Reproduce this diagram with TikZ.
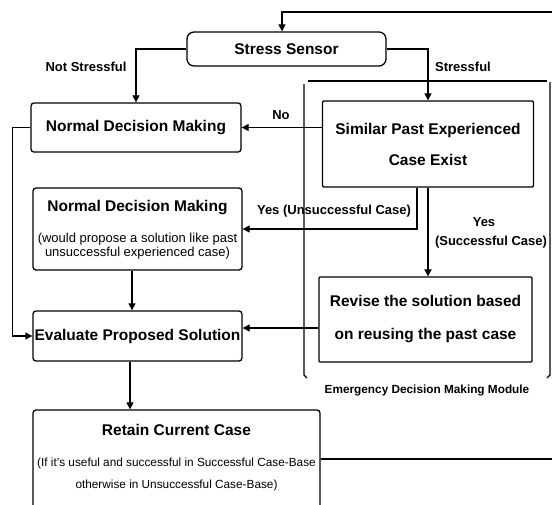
\documentclass[tikz,border=0pt]{standalone}
\usepackage{fontspec}
\setmainfont{Liberation Sans}
\usetikzlibrary{arrows.meta}
\begin{document}
\begin{tikzpicture}[x=1pt,y=-1pt,
  every node/.style={inner sep=0pt},
  box/.style={draw, line width=1.3pt, rounded corners=3pt, align=center, font=\fontsize{15.5}{18}\selectfont\bfseries},
  sqbox/.style={box, rounded corners=1pt},
  ttl/.style={font=\fontsize{15.5}{18}\selectfont\bfseries},
  subtxt/.style={align=center},
  lbl/.style={font=\fontsize{13}{15}\selectfont\bfseries},
  conn/.style={line width=1.2pt},
  arr/.style={conn, -{Triangle[length=7pt,width=7pt]}},
  modline/.style={line width=1.3pt},
]
\useasboundingbox (0,0) rectangle (552,504);

% boxes
\node[box, rounded corners=7pt, minimum width=199pt, minimum height=34pt] (stress) at (286.5,49) {Stress Sensor};
\node[box, minimum width=210pt, minimum height=49pt] (ndm1) at (136,127.5) {Normal Decision Making};
\node[sqbox, minimum width=211pt, minimum height=86pt] (similar) at (428,144) {Similar Past Experienced\\[13pt]Case Exist};
\node[box, minimum width=209pt, minimum height=82pt] (ndm2) at (137.5,229) {};
\node[ttl] (ndm2t) at (137.5,208) {Normal Decision Making};
\node[subtxt, font=\fontsize{13}{14}\selectfont] (ndm2s) at (137.5,246) {(would propose a solution like past\\unsuccessful experienced case)};
\node[box, minimum width=209pt, minimum height=50pt] (eval) at (137.5,336) {Evaluate Proposed Solution};
\node[sqbox, minimum width=213pt, minimum height=85pt] (revise) at (425.5,319.5) {Revise the solution based\\[15pt]on reusing the past case};
\node[box, minimum width=287pt, minimum height=98pt] (retain) at (176.5,459) {};
\node[ttl] (retaint) at (176.5,430) {Retain Current Case};
\node[subtxt, font=\fontsize{11.8}{22}\selectfont] (retains) at (176.5,474) {(If it's useful and successful in Successful Case-Base\\otherwise in Unsuccessful Case-Base)};

% module frame
\draw[modline] (308,81) -- (547,81);
\draw[modline] (304,84) -- (304,375) -- (307,378);
\draw[modline] (550,82) -- (550,375) -- (547,378);
\node[font=\fontsize{11.8}{14}\selectfont\bfseries] (modlbl) at (427,390) {Emergency Decision Making Module};

% connectors
\coordinate (fbtop) at (282,12);
\coordinate (fbR1) at (560,459);
\coordinate (fbR2) at (560,12);
\draw[arr] (retain.east) -- (fbR1) -- (fbR2) -- (fbtop) -- (fbtop |- stress.north);

\draw[arr] (stress.west) -| (ndm1.north);
\node[lbl] (ns) at (86,67) {Not Stressful};
\draw[arr] (stress.east) -| (similar.north);
\node[lbl] (st) at (463,67) {Stressful};

\draw[arr] (similar.west |- ndm1.east) -- (ndm1.east);
\node[lbl] (no) at (281,115) {No};

\coordinate (unsucc) at ([xshift=-11pt]similar.south);
\draw[arr] (unsucc) |- (ndm2.east);
\node[lbl] (yu) at (334,211) {Yes (Unsuccessful Case)};

\draw[conn, line width=2.4pt, -{Triangle[length=7pt,width=7pt]}] (similar.south) -- (similar.south |- revise.north);
\node[lbl] (ys1) at (484,222) {Yes};
\node[lbl] (ys2) at (491,242) {(Successful Case)};

\draw[arr] ([yshift=-8.5pt]revise.west) -- ([yshift=8pt]eval.east);
\draw[arr] (ndm1.west) -- ++(-18,0) |- (eval.west);

\coordinate (n2e) at ([xshift=-5.5pt]ndm2.south);
\draw[arr] (n2e) -- (n2e |- eval.north);
\coordinate (e2r) at ([xshift=-7.5pt]eval.south);
\draw[arr] (e2r) -- (e2r |- retain.north);
\end{tikzpicture}
\end{document}
